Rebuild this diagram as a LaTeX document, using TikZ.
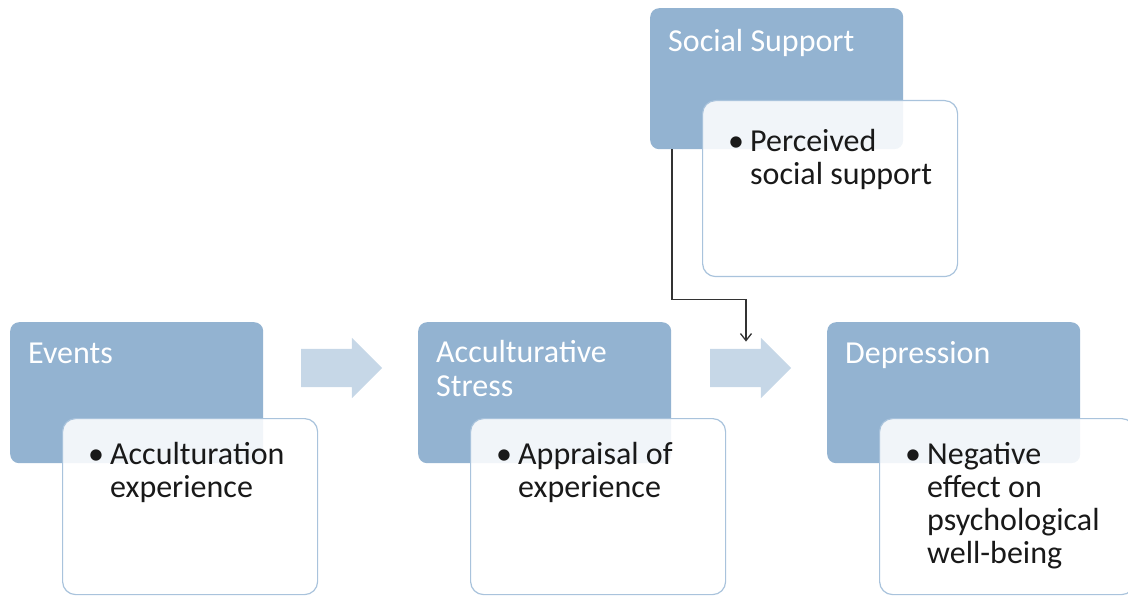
\documentclass[tikz,border=0pt]{standalone}
\usepackage{fontspec}
\setmainfont{Carlito}
\usetikzlibrary{positioning,shapes.arrows,arrows.meta}

\definecolor{headblue}{HTML}{93B3D1}
\definecolor{flowblue}{HTML}{C6D7E7}
\definecolor{edgeblue}{HTML}{A9C3DC}

\tikzset{
  headbox/.style={fill=headblue, rounded corners=9pt, minimum width=253pt, minimum height=141pt, inner sep=0pt, anchor=north west},
  bodybox/.style={draw=edgeblue, line width=1.2pt, fill=white, fill opacity=0.88, rounded corners=13pt, minimum width=255pt, minimum height=176pt, inner sep=0pt, anchor=north west},
  headtext/.style={anchor=base west, inner sep=0pt, text=white, align=left, font=\fontsize{32}{34}\selectfont},
  bodytext/.style={anchor=base west, inner sep=0pt, text=black!90, font=\fontsize{32}{33}\selectfont},
  flow/.style={single arrow, fill=flowblue, inner xsep=0pt, inner ysep=19pt, minimum height=81pt, single arrow head extend=11pt}
}
\newcommand{\pointlist}[1]{\begin{tabular}[t]{@{}p{22pt}@{}l@{}}\textbullet & #1\end{tabular}}

\begin{document}
\begin{tikzpicture}[x=1pt,y=-1pt]
\useasboundingbox (0,0) rectangle (1128,596);

% boxes
\node[headbox] (social) at (650,8) {};
\node[headbox] (events) at (10,322) {};
\node[headbox] (stress) at (418,322) {};
\node[headbox] (depression) at (827,322) {};
\node[bodybox] (perceived) at (702,100) {};
\node[bodybox] (experience) at (62,418) {};
\node[bodybox] (appraisal) at (470,418) {};
\node[bodybox] (negative) at (879,418) {};

% headings
\node[headtext] at ([xshift=18pt,yshift=-44pt]social.north west) {Social Support};
\node[headtext] at ([xshift=18pt,yshift=-41pt]events.north west) {Events};
\node[headtext] at ([xshift=18pt,yshift=-74pt]stress.north west) {Acculturative\\Stress};
\node[headtext] at ([xshift=18pt,yshift=-41pt]depression.north west) {Depression};

% points
\node[bodytext] at ([xshift=26pt,yshift=-52pt]perceived.north west) {\pointlist{Perceived\\ & social support}};
\node[bodytext] at ([xshift=26pt,yshift=-46pt]experience.north west) {\pointlist{Acculturation\\ & experience}};
\node[bodytext] at ([xshift=26pt,yshift=-46pt]appraisal.north west) {\pointlist{Appraisal of\\ & experience}};
\node[bodytext] at ([xshift=26pt,yshift=-46pt]negative.north west) {\pointlist{Negative\\ & effect on\\ & psychological\\ & well-being}};

% flow arrows
\node[flow] (flow1) at (332,368) {};
\node[flow] (flow2) at (741,368) {};

% support link
\draw[black!80, line width=1.3pt, -{Straight Barb[length=7pt,width=11pt]}]
  ([xshift=22pt]social.south west) -- ++(0,150) -| ([xshift=5pt,yshift=7pt]flow2.north);
\end{tikzpicture}
\end{document}
